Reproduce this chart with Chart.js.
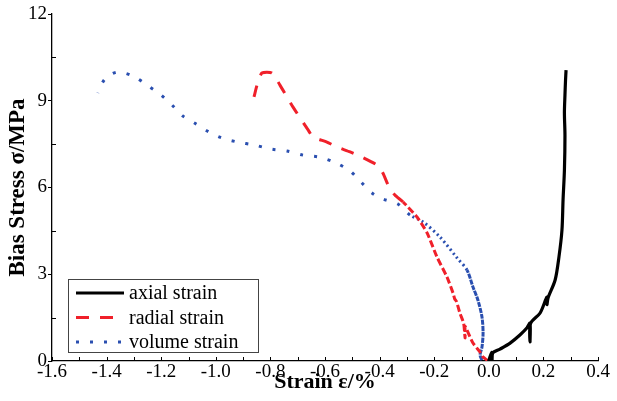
<!DOCTYPE html>
<html>
<head>
<meta charset="utf-8">
<script src="https://cdn.jsdelivr.net/npm/chart.js@4.4.0/dist/chart.umd.min.js"></script>
<style>
  html, body { margin: 0; padding: 0; background: #fff; }
  #wrap { width: 617px; height: 401px; }
</style>
</head>
<body>
<div id="wrap"><canvas id="stressChart"></canvas></div>
<script>
// strain (%) against bias stress (MPa), each curve listed from the origin outward
const axialX = [0.000, 0.004, 0.012, 0.012, 0.015, 0.041, 0.078, 0.114, 0.140, 0.151, 0.151, 0.153, 0.188, 0.213, 0.213, 0.217, 0.243, 0.257, 0.268, 0.272, 0.277, 0.279, 0.277, 0.279, 0.281, 0.283];
const axialY = [0.00, 0.14, 0.30, 0.05, 0.28, 0.41, 0.62, 0.90, 1.15, 1.31, 0.66, 1.30, 1.66, 2.21, 1.95, 2.18, 2.80, 3.60, 4.53, 5.57, 6.60, 7.80, 8.58, 9.20, 9.70, 10.06];

const radialX = [-0.005, -0.021, -0.032, -0.058, -0.080, -0.087, -0.087, -0.092, -0.106, -0.118, -0.125, -0.131, -0.153, -0.190, -0.226, -0.263, -0.314, -0.344, -0.369, -0.388, -0.410, -0.464, -0.508, -0.556, -0.593, -0.644, -0.662, -0.717, -0.765, -0.794, -0.831, -0.849, -0.860];
const radialY = [0.02, 0.14, 0.31, 0.62, 1.07, 1.20, 0.80, 1.30, 1.66, 2.05, 2.15, 2.35, 2.90, 3.60, 4.43, 4.98, 5.50, 5.74, 6.09, 6.50, 6.78, 7.05, 7.23, 7.40, 7.57, 7.75, 7.99, 8.78, 9.54, 9.96, 9.96, 9.54, 9.13];

const volumeX = [-0.025, -0.032, -0.025, -0.021, -0.025, -0.040, -0.058, -0.080, -0.116, -0.179, -0.241, -0.289, -0.333, -0.388, -0.428, -0.468, -0.508, -0.560, -0.622, -0.681, -0.739, -0.798, -0.860, -0.919, -0.977, -1.025, -1.073, -1.120, -1.160, -1.201, -1.252, -1.303, -1.362, -1.406, -1.432];
const volumeY = [0.03, 0.21, 0.48, 0.97, 1.52, 2.11, 2.56, 3.15, 3.56, 4.29, 4.81, 5.05, 5.43, 5.60, 5.81, 6.19, 6.57, 6.85, 7.05, 7.12, 7.26, 7.33, 7.47, 7.57, 7.71, 7.92, 8.20, 8.47, 8.85, 9.20, 9.54, 9.85, 9.99, 9.75, 9.27];

const seriesNames = ['axial strain', 'radial strain', 'volume strain'];

const xTickValues = [-1.6, -1.4, -1.2, -1.0, -0.8, -0.6, -0.4, -0.2, 0.0, 0.2, 0.4];
const xMinorValues = [-1.5, -1.3, -1.1, -0.9, -0.7, -0.5, -0.3, -0.1, 0.1, 0.3];
const yTickValues = [0, 3, 6, 9, 12];
const yMinorValues = [1.5, 4.5, 7.5, 10.5];

const serif = '"Liberation Serif", "DejaVu Serif", serif';

function toPoints(xs, ys) {
    return xs.map((x, i) => ({ x: x, y: ys[i] }));
}

// x ticks all point into the plot, y minor ticks too
const innerTicks = {
    id: 'innerTicks',
    afterDraw(chart) {
        const ctx = chart.ctx;
        const xs = chart.scales.x, ys = chart.scales.y;
        const area = chart.chartArea;
        ctx.save();
        ctx.strokeStyle = '#000';
        ctx.lineWidth = 1;
        ctx.beginPath();
        xTickValues.concat(xMinorValues).forEach(v => {
            const px = Math.round(xs.getPixelForValue(v)) + 0.5;
            ctx.moveTo(px, area.bottom);
            ctx.lineTo(px, area.bottom - 4);
        });
        yMinorValues.forEach(v => {
            const py = Math.round(ys.getPixelForValue(v)) + 0.5;
            ctx.moveTo(area.left, py);
            ctx.lineTo(area.left + 4, py);
        });
        ctx.stroke();
        ctx.restore();
    }
};

// boxed legend sitting in the lower left corner of the plot
const boxLegend = {
    id: 'boxLegend',
    afterDraw(chart) {
        const ctx = chart.ctx;
        const area = chart.chartArea;
        const left = area.left + 16, top = area.bottom - 82, w = 190, h = 73;
        ctx.save();
        ctx.fillStyle = '#fff';
        ctx.fillRect(left, top, w, h);
        ctx.strokeStyle = '#444';
        ctx.lineWidth = 1;
        ctx.strokeRect(left + 0.5, top + 0.5, w, h);
        chart.data.datasets.forEach((ds, i) => {
            const y = top + 14 + i * 24.5;
            ctx.beginPath();
            ctx.setLineDash(ds.borderDash || []);
            ctx.lineWidth = ds.borderWidth;
            ctx.strokeStyle = ds.borderColor;
            ctx.lineCap = 'butt';
            ctx.moveTo(left + 8, y);
            ctx.lineTo(left + 56, y);
            ctx.stroke();
            ctx.setLineDash([]);
            ctx.fillStyle = '#000';
            ctx.font = '20px ' + serif;
            ctx.textBaseline = 'middle';
            ctx.fillText(ds.label, left + 61, y + 1);
        });
        ctx.restore();
    }
};

const ctx = document.getElementById('stressChart').getContext('2d');
const stressChart = new Chart(ctx, {
    type: 'scatter',
    data: {
        datasets: [{
            label: seriesNames[0],
            data: toPoints(axialX, axialY),
            borderColor: '#000000',
            borderWidth: 3.2,
            borderDash: [],
            tension: 0.3
        }, {
            label: seriesNames[1],
            data: toPoints(radialX, radialY),
            borderColor: '#f0202a',
            borderWidth: 3,
            borderDash: [13, 11],
            tension: 0.2,
            segment: {
                // the lower part of the record is dense, dashes run together there
                borderDash: c => c.p0.parsed.y < 5.2 ? [7, 3] : undefined
            }
        }, {
            label: seriesNames[2],
            data: toPoints(volumeX, volumeY),
            borderColor: '#2a4fb0',
            borderWidth: 3,
            borderDash: [3, 11],
            tension: 0.3,
            segment: {
                borderDash: c => c.p0.parsed.y < 2.8 ? [5, 1] : (c.p0.parsed.y < 5 ? [2, 3] : undefined)
            }
        }]
    },
    options: {
        responsive: true,
        maintainAspectRatio: false,
        animation: false,
        showLine: true,
        layout: { padding: { top: 14, right: 19, left: 4, bottom: 5 } },
        elements: { point: { radius: 0 } },
        plugins: {
            legend: { display: false },
            tooltip: { enabled: false }
        },
        scales: {
            x: {
                type: 'linear',
                min: -1.6,
                max: 0.4,
                afterBuildTicks: scale => { scale.ticks = xTickValues.map(v => ({ value: v })); },
                afterFit: scale => { scale.height = 35; },
                border: { color: '#000', width: 1.3 },
                grid: { drawOnChartArea: false, drawTicks: false },
                ticks: {
                    color: '#000',
                    padding: 0,
                    maxRotation: 0,
                    font: { family: serif, size: 19 },
                    callback: v => Math.abs(v) < 1e-9 ? '0.0' : v.toFixed(1)
                },
                title: {
                    display: true,
                    text: 'Strain ε/%',
                    color: '#000',
                    padding: 0,
                    font: { family: serif, size: 22, weight: 'bold' }
                }
            },
            y: {
                type: 'linear',
                min: 0,
                max: 12,
                afterBuildTicks: scale => { scale.ticks = yTickValues.map(v => ({ value: v })); },
                afterFit: scale => { scale.width = 48; },
                border: { color: '#000', width: 1.3 },
                grid: { drawOnChartArea: false, tickLength: 4, color: '#000' },
                ticks: {
                    color: '#000',
                    padding: 1,
                    font: { family: serif, size: 19 }
                },
                title: {
                    display: true,
                    text: 'Bias Stress σ/MPa',
                    color: '#000',
                    padding: 0,
                    font: { family: serif, size: 23, weight: 'bold' }
                }
            }
        }
    },
    plugins: [innerTicks, boxLegend]
});
</script>
</body>
</html>
